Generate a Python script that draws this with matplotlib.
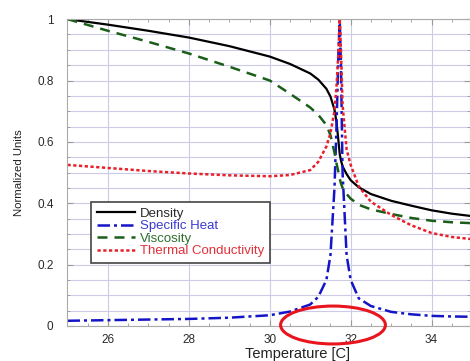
import matplotlib
matplotlib.use("Agg")
import matplotlib.pyplot as plt
from matplotlib.patches import Ellipse
from matplotlib.ticker import MultipleLocator

plt.rcParams['font.family'] = ['Liberation Sans', 'DejaVu Sans']

temperature = [25, 26, 27, 28, 29, 30, 30.5, 31, 31.2, 31.4, 31.5, 31.6, 31.65,
               31.7, 31.73, 31.76, 31.8, 31.9, 32.0, 32.2, 32.5, 33, 33.5, 34, 34.5, 35]
density = [1.0, 0.982, 0.962, 0.94, 0.912, 0.878, 0.854, 0.823, 0.803, 0.773, 0.748, 0.705, 0.665,
           0.60, 0.56, 0.54, 0.52, 0.495, 0.475, 0.452, 0.43, 0.408, 0.392, 0.377, 0.366, 0.358]
specific_heat = [0.017, 0.019, 0.021, 0.023, 0.027, 0.035, 0.047, 0.07, 0.095, 0.15, 0.23, 0.45, 0.65,
                 0.9, 1.0, 0.85, 0.5, 0.23, 0.15, 0.09, 0.065, 0.046, 0.038, 0.033, 0.031, 0.03]
viscosity = [1.0, 0.962, 0.926, 0.888, 0.845, 0.80, 0.757, 0.712, 0.688, 0.655, 0.622, 0.565, 0.53,
             0.50, 0.48, 0.465, 0.45, 0.43, 0.415, 0.395, 0.38, 0.365, 0.352, 0.343, 0.338, 0.335]
thermal_conductivity = [0.525, 0.515, 0.505, 0.497, 0.491, 0.488, 0.492, 0.508, 0.535, 0.585, 0.628, 0.70, 0.78,
                        0.9, 1.0, 0.9, 0.72, 0.575, 0.525, 0.455, 0.405, 0.362, 0.328, 0.303, 0.29, 0.283]

x_ticks = [26, 28, 30, 32, 34]
y_ticks = [0, 0.2, 0.4, 0.6, 0.8, 1]
y_tick_labels = ['0', '0.2', '0.4', '0.6', '0.8', '1']

fig = plt.figure(figsize=(4.7, 3.61), dpi=100)
ax = fig.add_axes([0.1436, 0.097, 0.8564, 0.85])

ax.plot(temperature, density, color='black', lw=1.6, label='Density')
ax.plot(temperature, specific_heat, color='#1515c8', lw=1.8, dashes=[5, 1.6, 1.2, 1.6], label='Specific Heat')
ax.plot(temperature, viscosity, color='#1a5e1a', lw=1.8, dashes=[4, 2.8], label='Viscosity')
ax.plot(temperature, thermal_conductivity, color='#e8202a', lw=1.8, dashes=[1.3, 1.0], label='Thermal Conductivity')

ax.set_xlim(25, 34.95)
ax.set_ylim(0, 1)
ax.set_xticks(x_ticks)
ax.set_yticks(y_ticks)
ax.set_yticklabels(y_tick_labels)
ax.xaxis.set_minor_locator(MultipleLocator(0.5))
ax.yaxis.set_minor_locator(MultipleLocator(0.05))
ax.grid(True, which='major', axis='x', color='#cbcbe8', lw=0.8)
ax.grid(True, which='both', axis='y', color='#cbcbe8', lw=0.8)
ax.set_axisbelow(True)
ax.tick_params(which='both', direction='in', top=True, right=True, colors='#999999',
               labelcolor='#2a2a2a', labelsize=8.5)
ax.tick_params(axis='y', which='major', pad=10)
ax.tick_params(axis='x', which='major', pad=5.5)
ax.tick_params(which='major', length=4)
ax.tick_params(which='minor', length=2.5)
for s in ax.spines.values():
    s.set_color('#aaaaaa')

ax.set_xlabel('Temperature [C]', fontsize=10.5, color='#222222')
ax.xaxis.set_label_coords(0.571, -0.07)
ax.set_ylabel('Normalized Units', fontsize=8.2, color='#222222')
ax.yaxis.set_label_coords(-0.108, 0.5)

leg = ax.legend(loc='upper left', bbox_to_anchor=(0.0596, 0.404), fontsize=9.5,
                frameon=True, fancybox=False, edgecolor='#444444', framealpha=1,
                handlelength=2.9, borderpad=0.42, labelspacing=0.02, handletextpad=0.38,
                borderaxespad=0)
leg.get_frame().set_linewidth(1.2)
for txt, c in zip(leg.get_texts(), ['#2a2a2a', '#3a3ad0', '#2e6e2e', '#e0303a']):
    txt.set_color(c)

ell = Ellipse((0.7085, 0.0997), 0.223, 0.105, transform=fig.transFigure,
              fill=False, edgecolor='#e8141e', lw=2.2, clip_on=False)
fig.patches.append(ell)

fig.savefig('out.png', dpi=100)
